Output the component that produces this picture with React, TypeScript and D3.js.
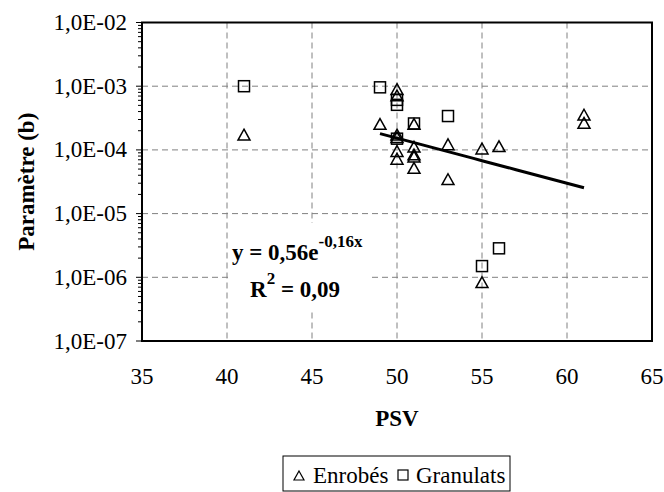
import React from "react";
import * as d3 from "d3";

// ---- data ----
const enrobesX = [41, 49, 50, 50, 50, 50, 50, 50, 51, 51, 51, 51, 51, 53, 53, 55, 55, 56, 61, 61];
const enrobesY = [1.7e-4, 2.5e-4, 8.8e-4, 7.0e-4, 1.7e-4, 1.55e-4, 9.4e-5, 7.1e-5, 2.5e-4, 1.1e-4, 8.3e-5, 7.7e-5, 5.1e-5, 1.2e-4, 3.4e-5, 1.03e-4, 8.2e-7, 1.12e-4, 3.5e-4, 2.6e-4];
const granulatsX = [41, 49, 50, 50, 50, 51, 53, 55, 56];
const granulatsY = [1.0e-3, 9.6e-4, 6.1e-4, 5.1e-4, 1.5e-4, 2.6e-4, 3.4e-4, 1.5e-6, 2.85e-6];
const trendCoef = [0.53, -0.163];
const trendRange = [49, 61];
const xTicks = [35, 40, 45, 50, 55, 60, 65];
const yTicks = [1e-7, 1e-6, 1e-5, 1e-4, 1e-3, 1e-2];
const yTickLabels = ["1,0E-07", "1,0E-06", "1,0E-05", "1,0E-04", "1,0E-03", "1,0E-02"];
const seriesNames = ["Enrobés", "Granulats"];

const FONT = "Liberation Serif";

export default function App() {
  const left = 142, right = 652, top = 22.5, bottom = 341;
  const x = d3.scaleLinear().domain([35, 65]).range([left, right]);
  const y = d3.scaleLog().domain([1e-7, 1e-2]).range([bottom, top]);

  const minor: number[] = [];
  for (let e = -7; e < -2; e++) for (let m = 2; m <= 9; m++) minor.push(m * Math.pow(10, e));

  const trendXs = d3.range(trendRange[0], trendRange[1] + 0.001, 0.5);
  const line = d3.line<number>().x((d) => x(d)).y((d) => y(trendCoef[0] * Math.exp(trendCoef[1] * d)));

  const tri = (cx: number, cy: number, s = 6) =>
    `M${cx},${cy - s} L${cx + s},${cy + s * 0.8} L${cx - s},${cy + s * 0.8} Z`;

  const T = (props: any) => <text fontFamily={FONT} style={{ fontFamily: FONT }} {...props} />;

  return (
    <svg width={664} height={492} style={{ position: "absolute", left: 0, top: 0 }}>
      <style>{`text, tspan { font-family: "Liberation Serif", serif; }`}</style>
      <rect x={0} y={0} width={664} height={492} fill="#fff" />
      {/* grid */}
      <g stroke="#808080" strokeWidth={1} strokeDasharray="6,4">
        {xTicks.slice(1, -1).map((t) => (
          <line key={"vx" + t} x1={x(t)} x2={x(t)} y1={top} y2={bottom} />
        ))}
        {yTicks.slice(1, -1).map((t) => (
          <line key={"hy" + t} x1={left} x2={right} y1={y(t)} y2={y(t)} />
        ))}
      </g>
      {/* y ticks */}
      <g stroke="#000" strokeWidth={1}>
        {yTicks.map((t) => (
          <line key={"mt" + t} x1={left - 6} x2={left} y1={y(t)} y2={y(t)} />
        ))}
        {minor.map((t) => (
          <line key={"mn" + t} x1={left - 4} x2={left} y1={y(t)} y2={y(t)} />
        ))}
      </g>
      {/* markers */}
      <g fill="none" stroke="#000" strokeWidth={1.5}>
        {enrobesX.map((v, i) => (
          <path key={"e" + i} d={tri(x(v), y(enrobesY[i]))} />
        ))}
        {granulatsX.map((v, i) => (
          <rect key={"g" + i} x={x(v) - 5.5} y={y(granulatsY[i]) - 5.5} width={11} height={11} />
        ))}
      </g>
      {/* trend */}
      <path d={line(trendXs) || ""} fill="none" stroke="#000" strokeWidth={3} />
      {/* frame */}
      <rect x={left} y={top} width={right - left} height={bottom - top} fill="none" stroke="#000" strokeWidth={2} />
      {/* equation box */}
      <rect x={228} y={223} width={142} height={89} fill="#fff" />
      <T x={232} y={260} fontSize={23} fontWeight="bold">
        y = 0,56e
        <tspan fontSize={17} dy={-13}>-0,16x</tspan>
      </T>
      <T x={250} y={297} fontSize={23} fontWeight="bold">
        R<tspan fontSize={17} dy={-13}>2</tspan>
        <tspan dy={13}> = 0,09</tspan>
      </T>
      {/* y labels */}
      {yTicks.map((t, i) => (
        <T key={"yl" + t} x={127} y={y(t) + 7.5} textAnchor="end" fontSize={23}>
          {yTickLabels[i]}
        </T>
      ))}
      {/* x labels */}
      {xTicks.map((t) => (
        <T key={"xl" + t} x={x(t)} y={384} textAnchor="middle" fontSize={23}>
          {t}
        </T>
      ))}
      <T x={(left + right) / 2} y={426} textAnchor="middle" fontSize={23} fontWeight="bold">
        PSV
      </T>
      <T transform={`translate(34,${(top + bottom) / 2}) rotate(-90)`} textAnchor="middle" fontSize={23} fontWeight="bold">
        Paramètre (b)
      </T>
      {/* legend */}
      <rect x={283} y={456} width={227} height={35} fill="#fff" stroke="#000" strokeWidth={1} />
      <path d={tri(299, 476, 5)} fill="none" stroke="#000" strokeWidth={1.2} />
      <T x={313} y={483} fontSize={23}>{seriesNames[0]}</T>
      <rect x={398} y={470} width={10} height={10} fill="none" stroke="#000" strokeWidth={1.2} />
      <T x={416} y={483} fontSize={23}>{seriesNames[1]}</T>
    </svg>
  );
}
